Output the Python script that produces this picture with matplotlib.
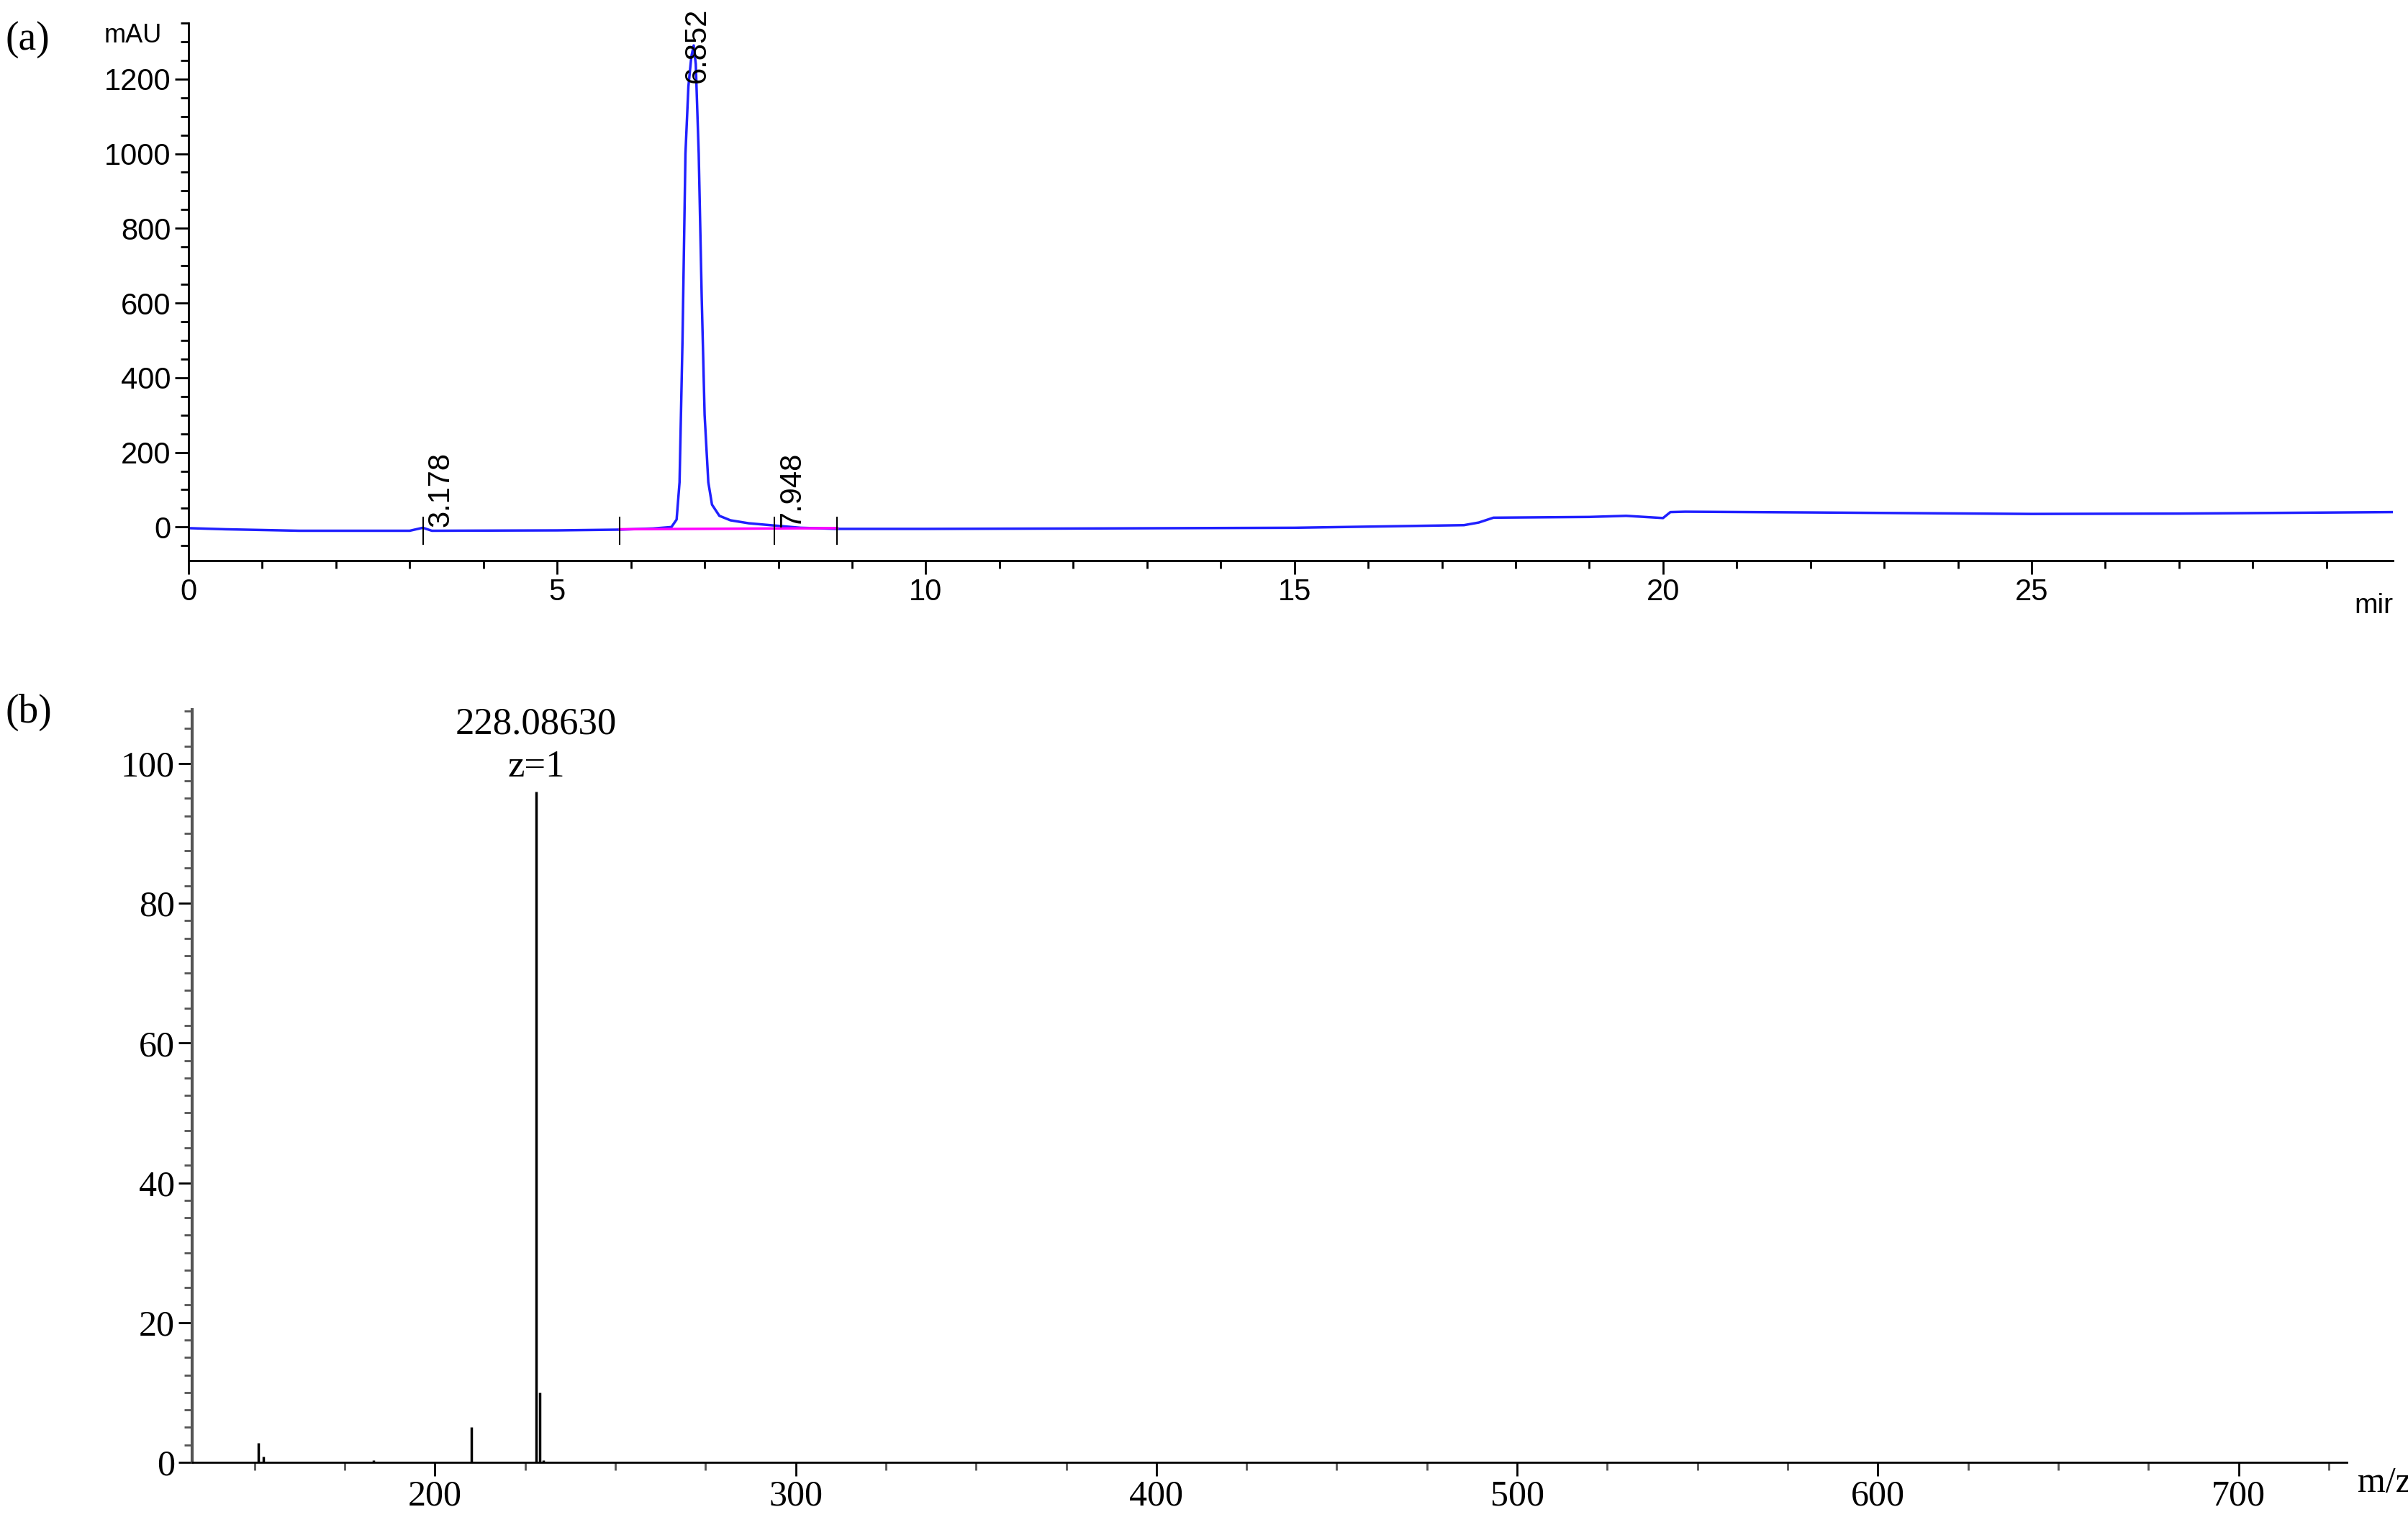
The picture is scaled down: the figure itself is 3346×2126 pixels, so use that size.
import matplotlib
matplotlib.use("Agg")
import matplotlib.pyplot as plt
from matplotlib.ticker import MultipleLocator

# ---- Panel (a) chromatogram data ----
t_min = [0, 0.5, 1.5, 3.0, 3.178, 3.3, 5.0, 5.85, 6.3, 6.55, 6.62, 6.66, 6.7, 6.74, 6.78, 6.82, 6.852,
         6.88, 6.92, 6.96, 7.0, 7.05, 7.1, 7.2, 7.35, 7.6, 7.948, 8.3, 8.8, 10, 12, 15, 17.3, 17.5,
         17.7, 19.0, 19.5, 20.0, 20.1, 20.3, 22, 25, 27, 29.9]
mau = [-3, -6, -10, -10, -2, -10, -9, -7, -4, 0, 20, 120, 500, 1000, 1180, 1260, 1290,
       1240, 1000, 620, 300, 120, 60, 30, 18, 10, 4, -2, -5, -5, -4, -2, 5, 12,
       25, 27, 30, 24, 40, 41, 39, 35, 36, 40]
peak_labels = ["3.178", "6.852", "7.948"]
peak_times = [3.178, 6.852, 7.948]
peak_label_y = [0, 1190, 0]
baseline_t = [5.85, 8.8]
baseline_v = [-6, -3]
marker_t = [3.178, 5.85, 7.948, 8.8]
a_xticks = [0, 5, 10, 15, 20, 25]
a_yticks = [0, 200, 400, 600, 800, 1000, 1200]

# ---- Panel (b) mass spectrum data ----
mz = [151.0, 152.5, 183.0, 210.2, 228.0863, 229.09, 230.1]
rel_int = [2.8, 0.8, 0.3, 5.0, 96.0, 10.0, 0.3]
b_xticks = [200, 300, 400, 500, 600, 700]
b_yticks = [0, 20, 40, 60, 80, 100]
main_label = "228.08630\nz=1"

fig = plt.figure(figsize=(33.46, 21.26), dpi=100)
W, H = 3346, 2126

# Panel a
axa = fig.add_axes([262 / W, 1 - 779 / H, (3325 - 262) / W, (779 - 32) / H])
axa.plot(t_min, mau, color="#2020ff", lw=2.5)
axa.plot(baseline_t, baseline_v, color="#ff00ff", lw=2.5)
for mt in marker_t:
    axa.plot([mt, mt], [-45, 25], color="black", lw=1.5)
for lab, pt, py in zip(peak_labels, peak_times, peak_label_y):
    axa.text(pt + 0.05, py, lab, rotation=90, ha="left" if lab != "6.852" else "center",
             va="bottom", fontsize=30, family="Liberation Sans")
axa.set_xlim(0, 29.9)
axa.set_ylim(-90, 1350)
axa.set_xticks(a_xticks)
axa.set_yticks(a_yticks)
axa.xaxis.set_minor_locator(MultipleLocator(1))
axa.yaxis.set_minor_locator(MultipleLocator(50))
for s in ["top", "right"]:
    axa.spines[s].set_visible(False)
axa.spines["left"].set_linewidth(2)
axa.spines["bottom"].set_linewidth(2)
axa.tick_params(which="major", length=14, width=2, labelsize=30)
axa.tick_params(which="minor", length=8, width=2)
for lbl in axa.get_xticklabels() + axa.get_yticklabels():
    lbl.set_family("Liberation Sans")
axa.text(-0.012, 1.0, "mAU", transform=axa.transAxes, ha="right", va="top", fontsize=26,
         family="Liberation Sans")
axa.text(1.0, -0.06, "mir", transform=axa.transAxes, ha="right", va="top", fontsize=28,
         family="Liberation Sans")
fig.text(8 / W, 1 - 55 / H, "(a)", fontsize=40, family="Liberation Serif", va="center")

# Panel b
axb = fig.add_axes([267 / W, 1 - 2032 / H, (3261 - 267) / W, (2032 - 986) / H])
axb.vlines(mz, 0, rel_int, color="black", lw=2.5)
axb.text(228.0863, 97, main_label, ha="center", va="bottom", fontsize=38,
         family="Liberation Serif", linespacing=1.3)
axb.set_xlim(132.7, 730)
axb.set_ylim(0, 107.7)
axb.set_xticks(b_xticks)
axb.set_yticks(b_yticks)
axb.xaxis.set_minor_locator(MultipleLocator(25))
axb.yaxis.set_minor_locator(MultipleLocator(2.5))
for s in ["top", "right"]:
    axb.spines[s].set_visible(False)
axb.spines["left"].set_linewidth(3)
axb.spines["left"].set_color("#555555")
axb.spines["bottom"].set_linewidth(2)
axb.tick_params(which="major", length=14, width=2, labelsize=36)
axb.tick_params(which="minor", length=8, width=2, colors="#555555")
for lbl in axb.get_xticklabels() + axb.get_yticklabels():
    lbl.set_family("Liberation Serif")
axb.text(1.005, -0.005, "m/z", transform=axb.transAxes, ha="left", va="top", fontsize=36,
         family="Liberation Serif")
fig.text(8 / W, 1 - 990 / H, "(b)", fontsize=40, family="Liberation Serif", va="center")

fig.savefig("out.png", dpi=100)
